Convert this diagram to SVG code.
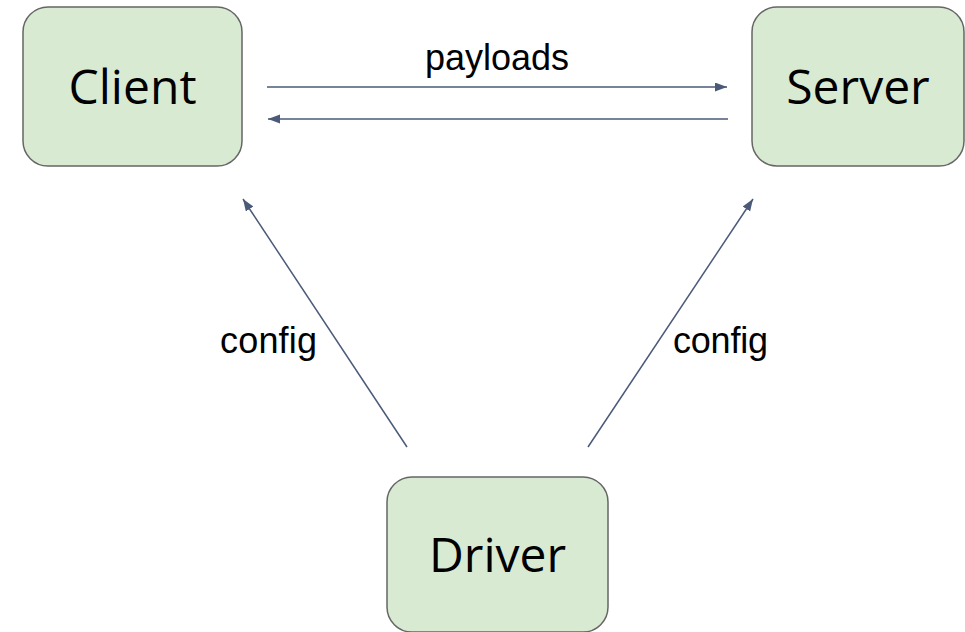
<svg xmlns="http://www.w3.org/2000/svg" width="965" height="632" viewBox="0 0 965 632">
<style>
.box{fill:#d9ead3;stroke:#666666;stroke-width:1.5}
.nt{font-family:"Open Sans","Noto Sans",sans-serif;font-size:48px;fill:#000;text-anchor:middle}
.lbl{font-family:"Liberation Sans",Arial,sans-serif;fill:#000;font-size:36px}
.edge{stroke:#4a5a78;stroke-width:1.5;fill:none;marker-end:url(#ah)}
</style>
<defs>
<marker id="ah" markerWidth="13" markerHeight="10" refX="12" refY="4.5" orient="auto" markerUnits="userSpaceOnUse">
<path d="M0,0 L12,4.5 L0,9 Z" fill="#4a5a78"/>
</marker>
</defs>
<rect width="965" height="632" fill="#ffffff"/>
<g id="edges">
<line class="edge" x1="267" y1="87" x2="727" y2="87"/>
<line class="edge" x1="728" y1="119" x2="268" y2="119"/>
<line class="edge" x1="407" y1="447" x2="243" y2="199"/>
<line class="edge" x1="588" y1="447" x2="753" y2="199"/>
<text class="lbl" x="497" y="70" text-anchor="middle">payloads</text>
<text class="lbl" x="220" y="353" textLength="97">config</text>
<text class="lbl" x="673" y="353" textLength="95">config</text>
</g>
<g id="client">
<rect class="box" x="23" y="7" width="219" height="159" rx="25"/>
<text class="nt" x="132.5" y="104">Client</text>
</g>
<g id="server">
<rect class="box" x="752" y="7" width="212" height="159" rx="25"/>
<text class="nt" x="858" y="104">Server</text>
</g>
<g id="driver">
<rect class="box" x="387" y="477" width="221" height="155" rx="25"/>
<text class="nt" x="497.5" y="572">Driver</text>
</g>
</svg>
